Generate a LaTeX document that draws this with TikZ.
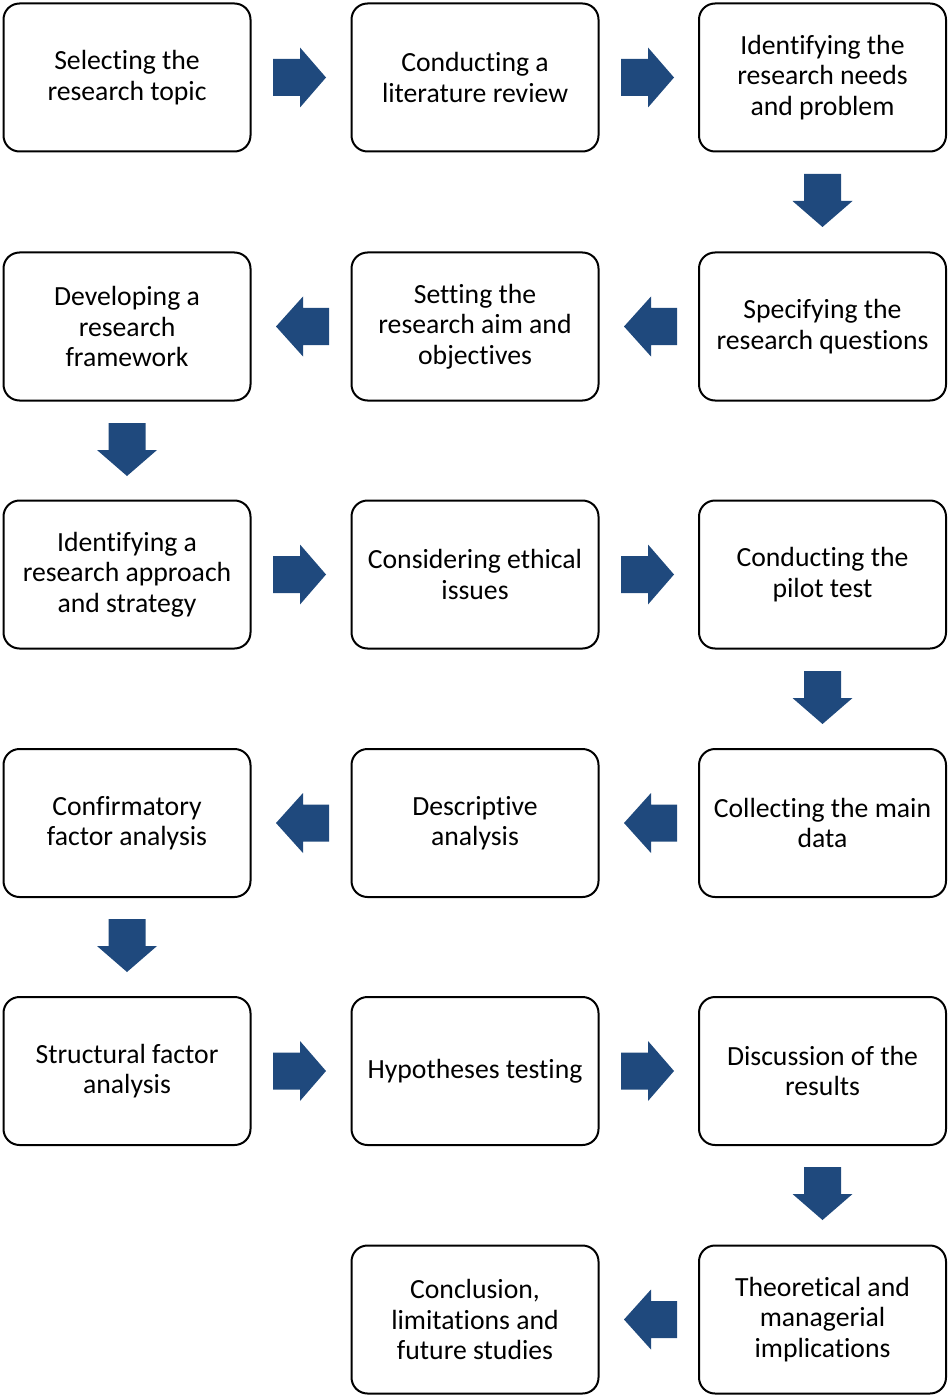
\documentclass[tikz,border=0pt]{standalone}
\usepackage{fontspec}
\setmainfont{Carlito}[Ligatures=NoCommon]
\definecolor{arrowblue}{HTML}{1F497D}
\tikzset{
  stepbox/.style={draw=black, line width=2pt, rounded corners=16pt, fill=white,
    minimum width=247pt, minimum height=148pt, align=center, inner sep=3pt,
    font=\fontsize{27.7}{30.5}\selectfont, text=black},
  blockarrow/.style={fill=arrowblue, draw=none}
}
% block arrows: given the point where the arrow starts (back edge centre)
\newcommand{\arrowright}[2]{\fill[blockarrow] (#1,#2) ++(0,-18.5) -- ++(27,0) -- ++(0,-11.5) -- ++(26,30) -- ++(-26,30) -- ++(0,-11.5) -- ++(-27,0) -- cycle;}
\newcommand{\arrowleft}[2]{\fill[blockarrow] (#1,#2) ++(0,-18.5) -- ++(-26,0) -- ++(0,-11.5) -- ++(-27,30) -- ++(27,30) -- ++(0,-11.5) -- ++(26,0) -- cycle;}
\newcommand{\arrowdown}[2]{\fill[blockarrow] (#1,#2) ++(-18.5,0) -- ++(0,27) -- ++(-11.5,0) -- ++(30,26) -- ++(30,-26) -- ++(-11.5,0) -- ++(0,-27) -- cycle;}
\begin{document}
\begin{tikzpicture}[x=1pt,y=-1pt]
\useasboundingbox (0,0) rectangle (947,1396);
% row 1
\node[stepbox] (b1) at (127,77.5) {Selecting the\\research topic};
\node[stepbox] (b2) at (475,77.5) {Conducting a\\literature review};
\node[stepbox] (b3) at (822.5,77.5) {Identifying the\\research needs\\and problem};
% row 2
\node[stepbox] (b4) at (822.5,326.5) {Specifying the\\research questions};
\node[stepbox] (b5) at (475,326.5) {Setting the\\research aim and\\objectives};
\node[stepbox] (b6) at (127,326.5) {Developing a\\research\\framework};
% row 3
\node[stepbox] (b7) at (127,574.5) {Identifying a\\research approach\\and strategy};
\node[stepbox] (b8) at (475,574.5) {Considering ethical\\issues};
\node[stepbox] (b9) at (822.5,574.5) {Conducting the\\pilot test};
% row 4
\node[stepbox] (b10) at (822.5,823) {Collecting the main\\data};
\node[stepbox] (b11) at (475,823) {Descriptive\\analysis};
\node[stepbox] (b12) at (127,823) {Confirmatory\\factor analysis};
% row 5
\node[stepbox] (b13) at (127,1071) {Structural factor\\analysis};
\node[stepbox] (b14) at (475,1071) {Hypotheses testing};
\node[stepbox] (b15) at (822.5,1071) {Discussion of the\\results};
% row 6
\node[stepbox] (b16) at (822.5,1319.5) {Theoretical and\\managerial\\implications};
\node[stepbox] (b17) at (475,1319.5) {Conclusion,\\limitations and\\future studies};
% arrows between steps
\arrowright{273}{77.5}
\arrowright{621}{77.5}
\arrowdown{822.5}{174}
\arrowleft{677}{326.5}
\arrowleft{329}{326.5}
\arrowdown{127}{423}
\arrowright{273}{574.5}
\arrowright{621}{574.5}
\arrowdown{822.5}{671}
\arrowleft{677}{823}
\arrowleft{329}{823}
\arrowdown{127}{919}
\arrowright{273}{1071}
\arrowright{621}{1071}
\arrowdown{822.5}{1167}
\arrowleft{677}{1319.5}
\end{tikzpicture}
\end{document}
